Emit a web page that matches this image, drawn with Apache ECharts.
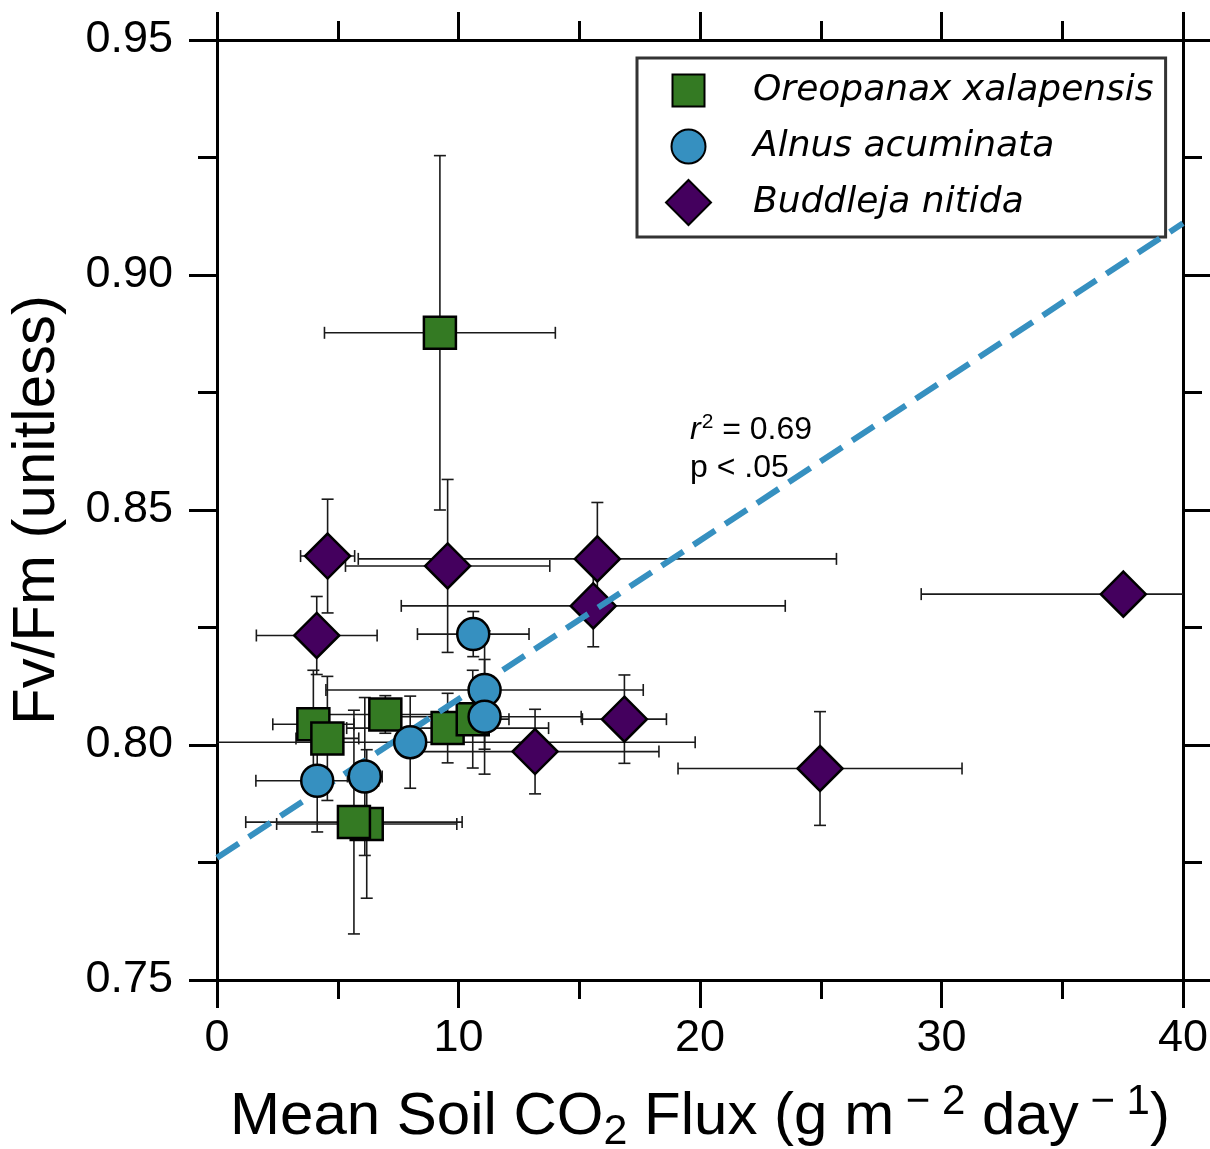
<!DOCTYPE html>
<html>
<head>
<meta charset="utf-8">
<title>Fv/Fm vs Mean Soil CO2 Flux</title>
<script src="https://cdn.jsdelivr.net/npm/echarts@6/dist/echarts.min.js"></script>
<style>
  html, body { margin: 0; padding: 0; background: #fff; }
  #chart { width: 1210px; height: 1149px; }
</style>
</head>
<body>
<div id="chart"></div>
<script>
// Oreopanax xalapensis (squares)
const oreoX = [9.23, 3.99, 4.57, 6.97, 9.55, 10.59, 6.20, 5.67];
const oreoY = [0.8877, 0.8044, 0.8014, 0.8065, 0.8036, 0.8055, 0.7832, 0.7836];
const oreoXErr = [4.78, 1.68, 1.3, 2.5, 4.18, 1.5, 3.73, 4.48];
const oreoYErr = [0.0377, 0.0115, 0.0132, 0.004, 0.0074, 0.0104, 0.0158, 0.0238];

// Alnus acuminata (circles)
const alnusX = [10.61, 11.08, 11.08, 8.00, 4.15, 6.12];
const alnusY = [0.8236, 0.8117, 0.8060, 0.8006, 0.7924, 0.7933];
const alnusXErr = [2.31, 6.57, 4.0, 11.8, 2.54, 0.72];
const alnusYErr = [0.0048, 0.0126, 0.0122, 0.0098, 0.0109, 0.0168];

// Buddleja nitida (diamonds)
const buddX = [4.58, 9.55, 15.75, 15.58, 4.13, 16.87, 13.17, 24.97, 37.53];
const buddY = [0.8402, 0.8381, 0.8396, 0.8296, 0.8233, 0.8055, 0.7986, 0.7950, 0.8321];
const buddXErr = [1.12, 4.23, 9.9, 7.95, 2.5, 1.74, 5.13, 5.88, 8.37];
const buddYErr = [0.0121, 0.0184, 0.012, 0.0087, 0.0083, 0.0094, 0.009, 0.0121, 0];

// regression line (read at the two ends of the x axis)
const fitX = [0, 40];
const fitY = [0.776, 0.911];

const xTicks = [0, 10, 20, 30, 40];
const yTicks = [0.75, 0.80, 0.85, 0.90, 0.95];

const names = ['Oreopanax xalapensis', 'Alnus acuminata', 'Buddleja nitida'];

function zip(xs, ys, xe, ye) {
  return xs.map((x, i) => [x, ys[i], xe[i], ye[i]]);
}

// error bars with caps, clipped to the plot area
function errRenderItem(params, api) {
  const x = api.value(0);
  const y = api.value(1);
  const xe = api.value(2);
  const ye = api.value(3);
  const cs = params.coordSys;
  const minX = cs.x, maxX = cs.x + cs.width;
  const minY = cs.y, maxY = cs.y + cs.height;
  const c = api.coord([x, y]);
  const l = api.coord([x - xe, y]);
  const r = api.coord([x + xe, y]);
  const t = api.coord([x, y + ye]);
  const b = api.coord([x, y - ye]);
  const style = { stroke: '#1a1a1a', lineWidth: 1.6 };
  const cap = 6;
  const children = [];
  if (xe > 0) {
    children.push({ type: 'line', shape: { x1: Math.max(l[0], minX), y1: c[1], x2: Math.min(r[0], maxX), y2: c[1] }, style });
    if (l[0] >= minX) children.push({ type: 'line', shape: { x1: l[0], y1: c[1] - cap, x2: l[0], y2: c[1] + cap }, style });
    if (r[0] <= maxX) children.push({ type: 'line', shape: { x1: r[0], y1: c[1] - cap, x2: r[0], y2: c[1] + cap }, style });
  }
  if (ye > 0) {
    children.push({ type: 'line', shape: { x1: c[0], y1: Math.max(t[1], minY), x2: c[0], y2: Math.min(b[1], maxY) }, style });
    if (t[1] >= minY) children.push({ type: 'line', shape: { x1: c[0] - cap, y1: t[1], x2: c[0] + cap, y2: t[1] }, style });
    if (b[1] <= maxY) children.push({ type: 'line', shape: { x1: c[0] - cap, y1: b[1], x2: c[0] + cap, y2: b[1] }, style });
  }
  return { type: 'group', children };
}

const chart = echarts.init(document.getElementById('chart'));

const axisLineStyle = { color: '#000', width: 3 };
const tickFont = 'Liberation Sans';

function xAxisCfg(pos, showLabel, extra) {
  return Object.assign({
    type: 'value',
    position: pos,
    min: 0,
    max: 40,
    interval: 10,
    splitLine: { show: false },
    axisLine: { show: true, onZero: false, lineStyle: axisLineStyle },
    axisTick: { show: true, inside: false, length: 28, lineStyle: { color: '#000', width: 3 } },
    minorTick: { show: true, splitNumber: 2, length: 19, lineStyle: { color: '#000', width: 3 } },
    axisLabel: {
      show: showLabel,
      margin: 36,
      fontFamily: tickFont,
      fontSize: 45,
      color: '#000',
      formatter: v => (xTicks.indexOf(v) >= 0 ? String(v) : '')
    }
  }, extra || {});
}

function yAxisCfg(pos, showLabel, extra) {
  return Object.assign({
    type: 'value',
    position: pos,
    min: 0.75,
    max: 0.95,
    interval: 0.05,
    splitLine: { show: false },
    axisLine: { show: true, onZero: false, lineStyle: axisLineStyle },
    axisTick: { show: true, inside: false, length: 28, lineStyle: { color: '#000', width: 3 } },
    minorTick: { show: true, splitNumber: 2, length: 19, lineStyle: { color: '#000', width: 3 } },
    axisLabel: {
      show: showLabel,
      margin: 44,
      fontFamily: tickFont,
      fontSize: 45,
      color: '#000',
      formatter: v => {
        const s = v.toFixed(2);
        return yTicks.some(t => t.toFixed(2) === s) ? s : '';
      }
    }
  }, extra || {});
}

// legend icons: the leading moves pin a 45x45 box so the square and circle keep their size
const squareIcon = 'path://M0,0M45,45M6.5,6.5L38.5,6.5L38.5,38.5L6.5,38.5Z';
const circleIcon = 'path://M0,0M45,45M5.5,22.5A17,17,0,1,1,39.5,22.5A17,17,0,1,1,5.5,22.5Z';

const option = {
  backgroundColor: '#fff',
  animation: false,
  grid: { left: 217, right: 27, top: 40, bottom: 169, containLabel: false, outerBoundsMode: 'none' },
  xAxis: [
    xAxisCfg('bottom', true, {
      name: 'Mean Soil CO{sub|2} Flux (g m{sup| − 2} day{sup| − 1})',
      nameLocation: 'middle',
      nameGap: 100,
      nameTextStyle: {
        fontFamily: tickFont,
        fontSize: 60,
        color: '#000',
        lineHeight: 74,
        rich: {
          sub: { fontFamily: tickFont, fontSize: 43, color: '#000', lineHeight: 46, verticalAlign: 'bottom' },
          sup: { fontFamily: tickFont, fontSize: 42, color: '#000', lineHeight: 42, verticalAlign: 'top', padding: [1, 0, 0, 0] }
        }
      }
    }),
    xAxisCfg('top', false)
  ],
  yAxis: [
    yAxisCfg('left', true, {
      name: 'Fv/Fm (unitless)',
      nameLocation: 'middle',
      nameRotate: 90,
      nameGap: 150,
      nameTextStyle: { fontFamily: tickFont, fontSize: 60, color: '#000' }
    }),
    yAxisCfg('right', false)
  ],
  legend: {
    data: [
      { name: names[0], icon: squareIcon },
      { name: names[1], icon: circleIcon },
      { name: names[2], icon: 'diamond' }
    ],
    orient: 'vertical',
    left: 637,
    top: 58,
    padding: [9, 12, 11, 28],
    itemWidth: 45,
    itemHeight: 45,
    itemGap: 9,
    backgroundColor: '#fff',
    borderColor: '#333',
    borderWidth: 3,
    borderRadius: 0,
    selectedMode: false,
    textStyle: {
      fontFamily: 'DejaVu Sans',
      fontStyle: 'italic',
      fontSize: 36,
      color: '#000',
      lineHeight: 40,
      padding: [0, 0, 0, 37]
    }
  },
  graphic: [
    {
      type: 'text',
      left: 690,
      top: 411,
      z: 20,
      style: {
        text: '{it|r}{sup|2}{n| = 0.69}\n{n|p < .05}',
        fill: '#000',
        rich: {
          it: { fontFamily: tickFont, fontStyle: 'italic', fontSize: 32, lineHeight: 38 },
          sup: { fontFamily: tickFont, fontSize: 21, lineHeight: 38, verticalAlign: 'top', padding: [1, 0, 0, 1] },
          n: { fontFamily: tickFont, fontSize: 32, lineHeight: 38 }
        }
      }
    }
  ],
  series: [
    {
      name: names[0] + ' err',
      type: 'custom',
      renderItem: errRenderItem,
      encode: { x: 0, y: 1 },
      data: zip(oreoX, oreoY, oreoXErr, oreoYErr),
      z: 1,
      silent: true
    },
    {
      name: names[1] + ' err',
      type: 'custom',
      renderItem: errRenderItem,
      encode: { x: 0, y: 1 },
      data: zip(alnusX, alnusY, alnusXErr, alnusYErr),
      z: 1,
      silent: true
    },
    {
      name: names[2] + ' err',
      type: 'custom',
      renderItem: errRenderItem,
      encode: { x: 0, y: 1 },
      data: zip(buddX, buddY, buddXErr, buddYErr),
      z: 1,
      silent: true
    },
    {
      name: names[0],
      type: 'scatter',
      symbol: 'rect',
      symbolSize: 32,
      data: oreoX.map((x, i) => [x, oreoY[i]]),
      itemStyle: { color: '#347a23', borderColor: '#000', borderWidth: 2.5, opacity: 1 },
      z: 2
    },
    {
      name: names[2],
      type: 'scatter',
      symbol: 'diamond',
      symbolSize: 45,
      data: buddX.map((x, i) => [x, buddY[i]]),
      itemStyle: { color: '#44005e', borderColor: '#000', borderWidth: 2.5, opacity: 1 },
      z: 3
    },
    {
      name: 'fit',
      type: 'line',
      data: fitX.map((x, i) => [x, fitY[i]]),
      showSymbol: false,
      symbol: 'none',
      lineStyle: { color: '#3690c0', width: 6, type: [26, 12] },
      z: 4,
      silent: true
    },
    {
      name: names[1],
      type: 'scatter',
      symbol: 'circle',
      symbolSize: 32,
      data: alnusX.map((x, i) => [x, alnusY[i]]),
      itemStyle: { color: '#3690c0', borderColor: '#000', borderWidth: 2.5, opacity: 1 },
      z: 5
    }
  ]
};

chart.setOption(option);
</script>
</body>
</html>
